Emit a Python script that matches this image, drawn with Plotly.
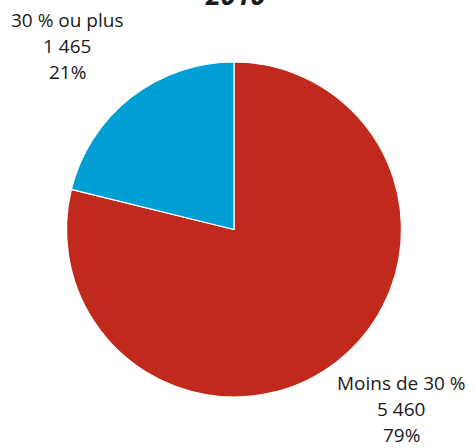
import plotly.graph_objects as go

# Répartition en 2010
categories = ["Moins de 30 %", "30 % ou plus"]
counts = [5460, 1465]
colors = ["#C0291C", "#00A0D6"]
year_label = "2010"

total = sum(counts)


def fmt_thousands(n):
    return f"{n:,}".replace(",", " ")


def label_lines(i):
    pct = round(100 * counts[i] / total)
    return [categories[i], fmt_thousands(counts[i]), f"{pct}%"]


W, H = 475, 448
cx, cy, r = 234, 229.5, 167.5

fig = go.Figure(
    go.Pie(
        labels=categories,
        values=counts,
        sort=False,
        direction="clockwise",
        rotation=0,
        marker=dict(colors=colors, line=dict(color="white", width=1.2)),
        textinfo="none",
        hoverinfo="label+value+percent",
        showlegend=False,
        domain=dict(
            x=[(cx - r) / W, (cx + r) / W],
            y=[1 - (cy + r) / H, 1 - (cy - r) / H],
        ),
    )
)

label_font = dict(family="Open Sans, Noto Sans, sans-serif", size=19, color="#1a1a1a")
line_gap = 26

# label anchor (centre x, first-line centre y) in pixels, per slice
label_pos = {0: (401, 383), 1: (67, 20)}

annotations = []
for i, (px, py) in label_pos.items():
    for k, line in enumerate(label_lines(i)):
        annotations.append(
            dict(text=line, x=px / W, y=1 - (py + k * line_gap) / H,
                 xref="paper", yref="paper", xanchor="center", yanchor="middle",
                 showarrow=False, font=label_font, borderpad=0)
        )

# year heading
annotations.append(
    dict(text=f"<b><i>{year_label}</i></b>", x=235 / W, y=1, xref="paper", yref="paper",
         xanchor="center", yanchor="bottom", yshift=-15, showarrow=False,
         font=dict(family="Open Sans, Noto Sans, sans-serif", size=27, color="#1a1a1a"))
)

fig.update_layout(
    width=W,
    height=H,
    margin=dict(l=0, r=0, t=0, b=0),
    paper_bgcolor="white",
    plot_bgcolor="white",
    annotations=annotations,
)

fig.write_html("out.html")
